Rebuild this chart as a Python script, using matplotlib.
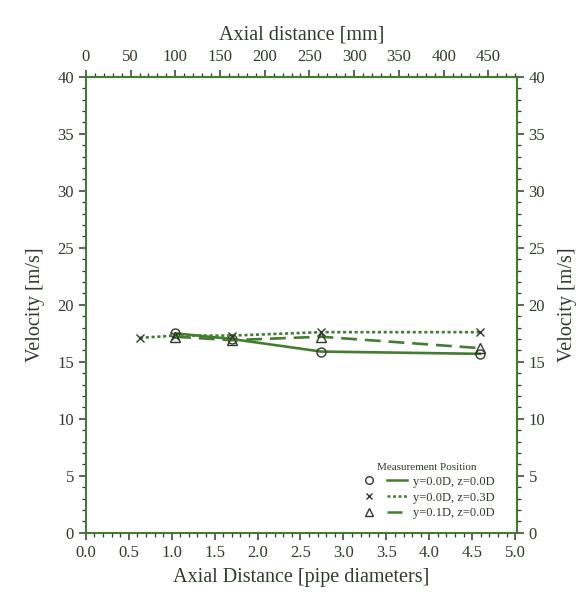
import matplotlib
matplotlib.use("Agg")
import matplotlib.pyplot as plt
from matplotlib.ticker import MultipleLocator, FormatStrFormatter
from matplotlib.lines import Line2D
from matplotlib.legend_handler import HandlerTuple

# Axial positions of the measurement stations [pipe diameters]
stations = [0.63, 1.04, 1.70, 2.74, 4.59]

# Mean velocity [m/s] at each measurement position
vel_y00_z00 = [None, 17.5, 17.0, 15.9, 15.7]
vel_y00_z03 = [17.1, 17.3, 17.3, 17.6, 17.6]
vel_y01_z00 = [None, 17.2, 16.9, 17.2, 16.2]

series_labels = ["y=0.0D, z=0.0D", "y=0.0D, z=0.3D", "y=0.1D, z=0.0D"]
pipe_diameter_mm = 96.0

LINE = "#447c32"
TEXT = "#2f3a2c"

plt.rcParams["font.family"] = ["Liberation Serif", "DejaVu Serif"]

fig = plt.figure(figsize=(5.88, 6.09), dpi=100)
ax = fig.add_axes([0.146, 0.125, 0.733, 0.749])


def pts(xs, ys):
    pairs = [(x, y) for x, y in zip(xs, ys) if y is not None]
    return [p[0] for p in pairs], [p[1] for p in pairs]


styles = [
    dict(ls="-", marker="o", ms=6.5, mfc="none"),
    dict(ls=(0, (1.2, 1.0)), marker="x", ms=6),
    dict(ls=(0, (6, 3)), marker="^", ms=6.5, mfc="none"),
]
data = [vel_y00_z00, vel_y00_z03, vel_y01_z00]

handles = []
for vals, st in zip(data, styles):
    x, y = pts(stations, vals)
    ax.plot(x, y, color=LINE, lw=1.9, ls=st["ls"], marker=st["marker"],
            ms=st["ms"], mfc=st.get("mfc", LINE), mec=TEXT, mew=1.0)
    mk = Line2D([], [], ls="none", marker=st["marker"], ms=st["ms"] - 1,
                mfc=st.get("mfc", TEXT), mec=TEXT, mew=1.0)
    ln = Line2D([], [], color=LINE, lw=1.8, ls=st["ls"])
    handles.append((mk, ln))

ax.set_xlim(0, 5.02)
ax.set_ylim(0, 40)

ax.xaxis.set_major_locator(MultipleLocator(0.5))
ax.xaxis.set_minor_locator(MultipleLocator(0.1))
ax.xaxis.set_major_formatter(FormatStrFormatter("%.1f"))
ax.yaxis.set_major_locator(MultipleLocator(5))
ax.yaxis.set_minor_locator(MultipleLocator(1))

for sp in ax.spines.values():
    sp.set_color(LINE)
    sp.set_linewidth(1.5)

tick_kw = dict(colors=TEXT, labelcolor=TEXT, direction="out")
ax.tick_params(which="major", length=5, width=1.1, labelsize=12, **tick_kw)
ax.tick_params(which="minor", length=3, width=0.9, **tick_kw)

ax.set_xlabel("Axial Distance [pipe diameters]", fontsize=14.5, color=TEXT, labelpad=5)
ax.set_ylabel("Velocity [m/s]", fontsize=14.5, color=TEXT, labelpad=9)

# Top axis in millimetres
top = ax.secondary_xaxis("top", functions=(lambda d: d * pipe_diameter_mm,
                                           lambda mm: mm / pipe_diameter_mm))
top.set_xticks(range(0, 451, 50))
top.xaxis.set_minor_locator(MultipleLocator(10))
top.spines["top"].set_color(LINE)
top.spines["top"].set_linewidth(1.5)
top.tick_params(which="major", length=5, width=1.1, labelsize=12, **tick_kw)
top.tick_params(which="minor", length=3, width=0.9, **tick_kw)
top.set_xlabel("Axial distance [mm]", fontsize=14.5, color=TEXT, labelpad=7)

# Mirrored velocity axis on the right
right = ax.secondary_yaxis("right")
right.yaxis.set_major_locator(MultipleLocator(5))
right.yaxis.set_minor_locator(MultipleLocator(1))
right.spines["right"].set_color(LINE)
right.spines["right"].set_linewidth(1.5)
right.tick_params(which="major", length=5, width=1.1, labelsize=12, **tick_kw)
right.tick_params(which="minor", length=3, width=0.9, **tick_kw)
right.set_ylabel("Velocity [m/s]", fontsize=14.5, color=TEXT, labelpad=9)

leg = ax.legend(handles, series_labels, title="Measurement Position",
                loc="lower right", bbox_to_anchor=(0.975, 0.005), frameon=False,
                fontsize=9, title_fontproperties={"size": 8},
                handler_map={tuple: HandlerTuple(ndivide=None, pad=0.6)},
                handlelength=3.8, handletextpad=0.5, labelspacing=0.3)
for t in leg.get_texts():
    t.set_color(TEXT)
leg.get_title().set_color(TEXT)

fig.savefig("out.png", dpi=100, facecolor="white")
